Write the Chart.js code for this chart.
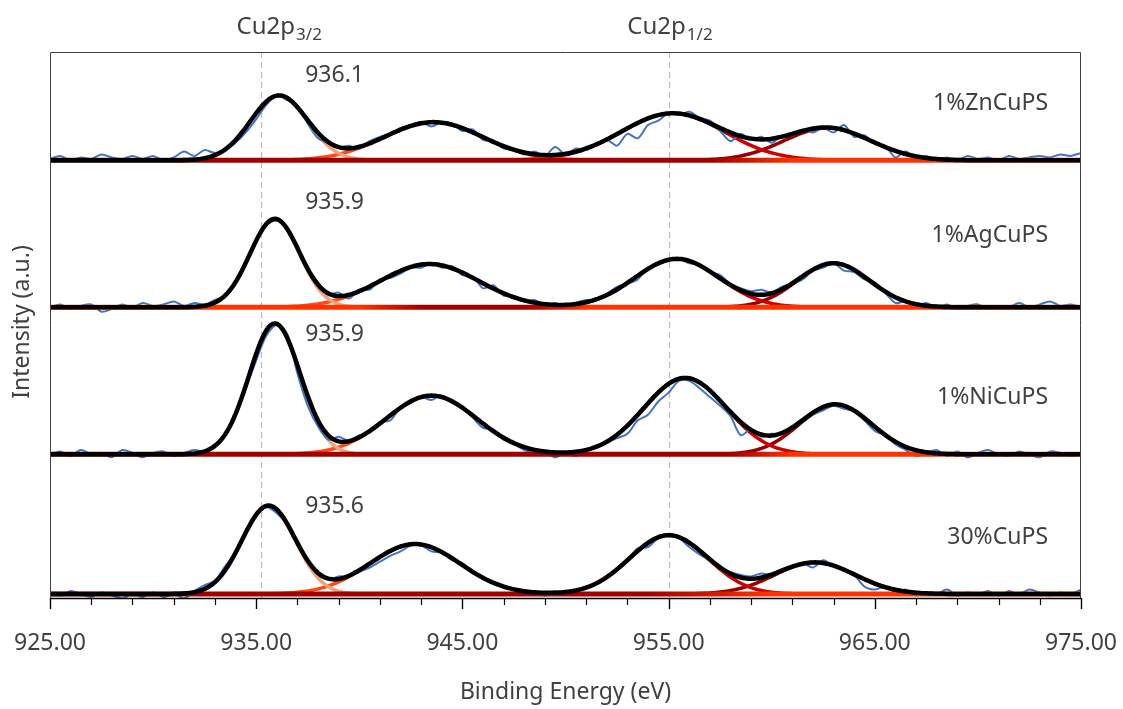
<!DOCTYPE html>
<html>
<head>
<meta charset="utf-8">
<title>Cu 2p XPS</title>
<script src="https://cdn.jsdelivr.net/npm/chart.js@4.4.1/dist/chart.umd.min.js"></script>
<style>
  html, body { margin: 0; padding: 0; background: #fff; }
  #wrap { width: 1123px; height: 709px; position: relative; }
</style>
</head>
<body>
<div id="wrap"><canvas id="xps"></canvas></div>
<script>
// sample names, top to bottom, and their vertical stacking offsets
const samples = ['1%ZnCuPS', '1%AgCuPS', '1%NiCuPS', '30%CuPS'];
const offsets = [2.95, 1.95, 0.95, 0];

// measured spectra, 925 -> 975 eV every 0.5 eV (intensity above each baseline)
const eStart = 925, eEnd = 975, eStep = 0.5;
const rawZn = [
  0.01, 0.03, 0.00, 0.02, 0.01, 0.04, 0.02, 0.01, 0.03, 0.01,
  0.03, 0.00, 0.02, 0.06, 0.03, 0.07, 0.05, 0.07, 0.12, 0.19,
  0.28, 0.38, 0.44, 0.41, 0.37, 0.25, 0.15, 0.12, 0.09, 0.10,
  0.08, 0.13, 0.16, 0.18, 0.22, 0.24, 0.26, 0.23, 0.26, 0.25,
  0.20, 0.21, 0.14, 0.13, 0.08, 0.07, 0.04, 0.06, 0.03, 0.09,
  0.04, 0.08, 0.07, 0.11, 0.14, 0.10, 0.18, 0.15, 0.24, 0.27,
  0.32, 0.31, 0.33, 0.29, 0.27, 0.20, 0.13, 0.18, 0.14, 0.16,
  0.12, 0.17, 0.17, 0.21, 0.19, 0.22, 0.19, 0.24, 0.16, 0.17,
  0.11, 0.10, 0.02, 0.06, 0.01, 0.03, 0.00, 0.02, 0.00, 0.03,
  0.01, 0.02, 0.00, 0.03, 0.01, 0.02, 0.03, 0.02, 0.04, 0.03,
  0.05
];
const rawAg = [
  0.00, 0.02, -0.01, 0.01, 0.02, -0.03, -0.01, 0.02, 0.00, 0.03,
  0.01, 0.02, 0.04, 0.01, 0.03, 0.02, 0.05, 0.08, 0.18, 0.30,
  0.45, 0.56, 0.59, 0.54, 0.40, 0.27, 0.17, 0.09, 0.10, 0.06,
  0.12, 0.12, 0.19, 0.20, 0.23, 0.27, 0.27, 0.30, 0.27, 0.28,
  0.22, 0.21, 0.13, 0.15, 0.08, 0.08, 0.04, 0.05, 0.01, 0.03,
  0.00, 0.03, 0.05, 0.05, 0.09, 0.14, 0.16, 0.19, 0.27, 0.29,
  0.32, 0.33, 0.30, 0.29, 0.24, 0.22, 0.16, 0.13, 0.11, 0.12,
  0.10, 0.14, 0.16, 0.19, 0.25, 0.27, 0.30, 0.25, 0.24, 0.19,
  0.17, 0.10, 0.03, 0.04, 0.01, 0.03, 0.00, 0.02, -0.01, 0.01,
  0.02, -0.01, 0.01, 0.00, 0.03, 0.00, 0.02, 0.04, 0.01, 0.02,
  0.00
];
const rawNi = [
  0.00, 0.02, -0.01, 0.03, 0.00, 0.01, -0.02, 0.03, 0.01, -0.02,
  0.01, 0.02, -0.01, 0.01, 0.03, 0.02, 0.07, 0.13, 0.26, 0.45,
  0.64, 0.81, 0.88, 0.82, 0.55, 0.33, 0.19, 0.10, 0.12, 0.09,
  0.13, 0.15, 0.22, 0.23, 0.32, 0.35, 0.39, 0.37, 0.40, 0.35,
  0.33, 0.25, 0.18, 0.17, 0.10, 0.07, 0.03, 0.01, 0.02, -0.02,
  0.01, -0.01, 0.03, 0.05, 0.08, 0.11, 0.14, 0.23, 0.27, 0.36,
  0.42, 0.50, 0.50, 0.45, 0.39, 0.33, 0.26, 0.13, 0.17, 0.12,
  0.14, 0.14, 0.19, 0.22, 0.27, 0.30, 0.33, 0.31, 0.29, 0.23,
  0.16, 0.13, 0.07, 0.03, -0.01, 0.01, 0.03, -0.01, 0.02, -0.02,
  0.01, 0.03, 0.00, -0.01, 0.02, 0.00, -0.02, 0.02, 0.01, -0.01,
  0.00
];
const rawCu30 = [
  0.01, -0.01, 0.02, 0.00, -0.02, 0.01, -0.01, -0.03, 0.00, -0.02,
  0.01, -0.02, 0.00, -0.03, 0.02, 0.06, 0.09, 0.19, 0.28, 0.43,
  0.54, 0.59, 0.55, 0.47, 0.33, 0.22, 0.13, 0.10, 0.12, 0.12,
  0.15, 0.18, 0.22, 0.26, 0.29, 0.33, 0.33, 0.29, 0.28, 0.23,
  0.21, 0.14, 0.11, 0.07, 0.05, 0.03, 0.01, 0.02, -0.01, 0.02,
  0.00, 0.03, 0.04, 0.07, 0.12, 0.17, 0.23, 0.31, 0.32, 0.38,
  0.40, 0.38, 0.32, 0.27, 0.23, 0.18, 0.15, 0.13, 0.12, 0.14,
  0.13, 0.17, 0.19, 0.21, 0.18, 0.23, 0.19, 0.17, 0.13, 0.05,
  0.03, 0.05, 0.01, 0.03, -0.01, 0.01, 0.00, 0.03, -0.01, 0.01,
  0.00, 0.02, -0.01, 0.02, 0.00, 0.03, 0.01, -0.01, 0.01, 0.00,
  0.03
];

// fitted Gaussian components: [centre eV, height, FWHM eV]
// order: 2p3/2 main, 2p3/2 satellite, 2p1/2 main, 2p1/2 satellite
const fitZn   = [[936.1, 0.44, 3.25], [943.6, 0.26, 5.65], [955.2, 0.32, 5.90], [962.7, 0.22, 4.95]];
const fitAg   = [[935.9, 0.60, 2.83], [943.4, 0.295, 5.65], [955.4, 0.33, 4.83], [963.0, 0.30, 4.12]];
const fitNi   = [[935.9, 0.89, 2.92], [943.5, 0.40, 5.18], [955.8, 0.52, 4.71], [963.1, 0.34, 4.12]];
const fitCu30 = [[935.6, 0.60, 3.06], [942.7, 0.34, 5.18], [955.0, 0.40, 4.47], [962.1, 0.215, 4.59]];

// axis ticks and the two Cu 2p reference energies
const xMajorTicks = [925, 935, 945, 955, 965, 975];
const xMinorStep = 2;
const guideEnergies = [935.25, 955.0];
const guideNames = [['Cu2p', '3/2'], ['Cu2p', '1/2']];

const rawSets = [rawZn, rawAg, rawNi, rawCu30];
const fitSets = [fitZn, fitAg, fitNi, fitCu30];

// styling
const FONT = '"Noto Sans", "Open Sans", sans-serif';
const TEXT = '#404040';
const compColors = ['#f6a17a', '#ff4a14', '#cc0000', '#960000'];
const baseStops = [
  [[925, '#a00000'], [957, '#a00000'], [961, '#ff3300'], [975, '#ff3300']],
  [[925, '#ff3300'], [940, '#ff3300'], [943, '#a00000'], [948, '#a00000'], [951, '#ff3300'], [975, '#ff3300']],
  [[925, '#a00000'], [958, '#a00000'], [961, '#ff3300'], [975, '#ff3300']],
  [[925, '#a00000'], [954, '#a00000'], [960, '#ff3300'], [975, '#ff3300']]
];
const guideTextLeft = [934.05, 953.0];      // left edge of the Cu2p captions, eV
const peakLabelLift = [85, 105, 120, 88];   // px above each baseline
const sampleLabelLift = [57, 72, 57, 57];

function gauss(e, p) {
  const s = p[2] / 2.3548;
  return p[1] * Math.exp(-((e - p[0]) ** 2) / (2 * s * s));
}

function hGradient(chart, stops) {
  const { ctx, chartArea, scales } = chart;
  if (!chartArea) return stops[0][1];
  const x0 = scales.x.getPixelForValue(eStart);
  const x1 = scales.x.getPixelForValue(eEnd);
  const g = ctx.createLinearGradient(x0, 0, x1, 0);
  stops.forEach(([e, c]) => g.addColorStop((e - eStart) / (eEnd - eStart), c));
  return g;
}

const fineGrid = [];
for (let i = 0; i <= 500; i++) fineGrid.push(eStart + i * 0.1);

const datasets = [];
samples.forEach((name, i) => {
  const off = offsets[i];
  const comps = fitSets[i];

  datasets.push({
    label: name + ' envelope',
    data: fineGrid.map(e => ({ x: e, y: off + comps.reduce((s, p) => s + gauss(e, p), 0) })),
    borderColor: '#000000',
    borderWidth: 4.5,
    order: 0
  });

  datasets.push({
    label: name + ' background',
    data: [{ x: eStart, y: off }, { x: eEnd, y: off }],
    borderColor: (c) => hGradient(c.chart, baseStops[i]),
    borderWidth: 5,
    order: 1
  });

  datasets.push({
    label: name,
    data: rawSets[i].map((v, j) => ({ x: eStart + j * eStep, y: off + v })),
    borderColor: '#4472c4',
    borderWidth: 2,
    tension: 0.3,
    order: 1.5
  });

  comps.forEach((p, k) => {
    datasets.push({
      label: name + ' component ' + (k + 1),
      data: fineGrid.map(e => ({ x: e, y: off + gauss(e, p) })),
      borderColor: compColors[k],
      borderWidth: 3.5,
      order: 2
    });
  });
});

const overlay = {
  id: 'overlay',
  beforeDatasetsDraw(chart) {
    const { ctx, chartArea: a, scales: { x } } = chart;
    ctx.save();
    ctx.strokeStyle = '#bdbdbd';
    ctx.lineWidth = 1.3;
    ctx.setLineDash([6, 4]);
    guideEnergies.forEach(e => {
      const px = Math.round(x.getPixelForValue(e)) + 0.5;
      ctx.beginPath();
      ctx.moveTo(px, a.top);
      ctx.lineTo(px, a.bottom);
      ctx.stroke();
    });
    ctx.restore();
  },
  afterDraw(chart) {
    const { ctx, chartArea: a, scales: { x, y } } = chart;
    ctx.save();

    // plot frame and bottom axis
    ctx.strokeStyle = '#404040';
    ctx.lineWidth = 1;
    ctx.beginPath();
    ctx.moveTo(a.left + 0.5, a.bottom);
    ctx.lineTo(a.left + 0.5, a.top + 0.5);
    ctx.lineTo(a.right - 0.5, a.top + 0.5);
    ctx.lineTo(a.right - 0.5, a.bottom);
    ctx.stroke();
    ctx.strokeStyle = '#000000';
    ctx.lineWidth = 1.5;
    ctx.beginPath();
    ctx.moveTo(a.left, a.bottom + 0.5);
    ctx.lineTo(a.right, a.bottom + 0.5);
    ctx.stroke();

    // major and minor tick marks
    ctx.lineWidth = 1.2;
    for (let e = eStart; e <= eEnd; e += xMinorStep) {
      const major = xMajorTicks.includes(e);
      const px = Math.round(x.getPixelForValue(e)) + 0.5;
      ctx.beginPath();
      ctx.moveTo(px, a.bottom);
      ctx.lineTo(px, a.bottom + (major ? 11 : 7));
      ctx.stroke();
    }
    xMajorTicks.forEach(e => {
      const px = Math.round(x.getPixelForValue(e)) + 0.5;
      ctx.beginPath();
      ctx.moveTo(px, a.bottom);
      ctx.lineTo(px, a.bottom + 11);
      ctx.stroke();
    });

    // tick labels
    ctx.fillStyle = TEXT;
    ctx.font = '23px ' + FONT;
    ctx.textAlign = 'center';
    ctx.textBaseline = 'middle';
    xMajorTicks.forEach(e => ctx.fillText(e.toFixed(2), x.getPixelForValue(e), a.bottom + 45));

    // axis titles
    ctx.fillText('Binding Energy (eV)', (a.left + a.right) / 2, 692);
    ctx.save();
    ctx.translate(22, 322);
    ctx.rotate(-Math.PI / 2);
    ctx.fillText('Intensity (a.u.)', 0, 0);
    ctx.restore();

    // Cu 2p captions above the guide lines
    ctx.textAlign = 'left';
    guideEnergies.forEach((e, i) => {
      const [main, sub] = guideNames[i];
      const x0 = x.getPixelForValue(guideTextLeft[i]);
      ctx.font = '24px ' + FONT;
      const wMain = ctx.measureText(main).width;
      ctx.fillText(main, x0, 27);
      ctx.font = '17px ' + FONT;
      ctx.fillText(sub, x0 + wMain + 1, 35);
    });

    // peak energy and sample labels
    ctx.font = '23px ' + FONT;
    samples.forEach((name, i) => {
      const base = y.getPixelForValue(offsets[i]);
      ctx.textAlign = 'center';
      ctx.fillText(fitSets[i][0][0].toFixed(1), x.getPixelForValue(938.8), base - peakLabelLift[i]);
      ctx.textAlign = 'right';
      ctx.fillText(name, x.getPixelForValue(973.4), base - sampleLabelLift[i]);
    });

    ctx.restore();
  }
};

new Chart(document.getElementById('xps'), {
  type: 'line',
  data: { datasets },
  options: {
    responsive: true,
    maintainAspectRatio: false,
    animation: false,
    layout: { padding: { left: 50, right: 42, top: 52, bottom: 111 } },
    elements: { point: { radius: 0 }, line: { borderJoinStyle: 'round', borderCapStyle: 'round' } },
    plugins: { legend: { display: false }, tooltip: { enabled: false } },
    scales: {
      x: { type: 'linear', min: eStart, max: eEnd, display: false },
      y: { min: -0.027, max: 3.687, display: false }
    }
  },
  plugins: [overlay]
});
</script>
</body>
</html>
